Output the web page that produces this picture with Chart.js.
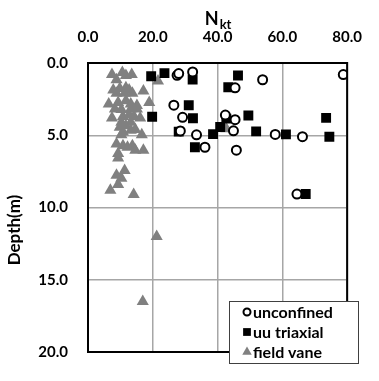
<!DOCTYPE html>
<html>
<head>
<meta charset="utf-8">
<script src="https://cdn.jsdelivr.net/npm/chart.js@4.4.1/dist/chart.umd.min.js"></script>
<style>
  html, body { margin: 0; padding: 0; background: #fff; }
  #wrap { width: 379px; height: 381px; }
</style>
</head>
<body>
<div id="wrap"><canvas id="myChart" width="379" height="381"></canvas></div>
<script>
// values
const seriesNames = ['unconfined', 'uu triaxial', 'field vane'];
const nktTicks = ['0.0', '20.0', '40.0', '60.0', '80.0'];
const depthTicks = ['0.0', '5.0', '10.0', '15.0', '20.0'];

const unconfinedNkt = [27.5, 28, 32.3, 45.4, 53.9, 78.8, 26.5, 29.2, 42.4, 45.4, 44.9, 28.5, 33.5, 36.1, 45.8, 57.8, 66.2, 64.5];
const unconfinedDepth = [0.85, 0.73, 0.62, 1.72, 1.16, 0.8, 2.92, 3.76, 3.6, 3.92, 4.69, 4.7, 4.97, 5.83, 6.03, 4.94, 5.1, 9.07];

const uuNkt = [19.5, 23.6, 32.3, 46.3, 43.3, 31.1, 19.8, 32.4, 42.7, 49.5, 40.8, 38.6, 28, 33, 51.9, 61.1, 73.5, 74.5, 67.2];
const uuDepth = [0.92, 0.7, 1.14, 0.86, 1.68, 2.92, 3.72, 3.82, 3.85, 3.63, 4.43, 4.92, 4.75, 5.83, 4.73, 4.94, 3.8, 5.1, 9.07];

const vaneNkt = [7.4, 10.6, 11.7, 13.5, 8.8, 21.6,
  7.8, 9.8, 11.7, 12.7, 17.1, 8.8, 11.3, 13.7,
  6.4, 9.3, 11.7, 13.2, 15.1, 18.9, 8.3, 10.3, 13.2, 15.1,
  7.4, 10.8, 12.7, 14.2, 16.1,
  9.8, 11.7, 10.3, 13.2, 10.8, 13.2, 14.6, 16.6, 10.3,
  8.8, 10.8, 12.2, 13.7, 14.6, 17.1, 9.3, 9.3,
  11.3, 8.8, 10.3, 9.3, 6.9, 14.1, 21.2, 16.9, 42.7];
const vaneDepth = [0.79, 0.65, 0.86, 0.8, 1.16, 1.25,
  1.87, 1.76, 1.72, 1.87, 1.94, 2.1, 2.1, 2.1,
  2.84, 2.73, 2.62, 2.84, 2.94, 2.74, 3.18, 3.22, 3.18, 3.18,
  3.8, 3.7, 3.6, 3.7, 3.8,
  4.45, 4.34, 4.1, 4.1, 4.77, 4.66, 4.6, 4.97, 4.97,
  5.61, 5.72, 5.83, 5.72, 6.04, 6.04, 6.26, 6.58,
  7.44, 7.76, 7.98, 8.4, 8.8, 9.1, 12.0, 16.5, 4.55];

function pts(xs, ys) {
    return xs.map((x, i) => ({ x: x, y: ys[i] }));
}

const fontFam = 'Lato, "Open Sans", sans-serif';

// frame round the plot, axis titles, legend box inside the plot
const extras = {
    id: 'extras',
    afterDraw(chart) {
        const c = chart.ctx;
        const a = chart.chartArea;
        c.save();
        c.strokeStyle = '#000';
        c.lineWidth = 2;
        c.strokeRect(a.left, a.top, a.right - a.left, a.bottom - a.top);

        // axis title N with subscript kt
        const cx = (a.left + a.right) / 2;
        c.fillStyle = '#000';
        c.textBaseline = 'alphabetic';
        c.font = 'bold 18px ' + fontFam;
        const wN = c.measureText('N').width;
        c.font = 'bold 13px ' + fontFam;
        const wSub = c.measureText('kt').width;
        const x0 = cx - (wN + wSub) / 2;
        c.font = 'bold 18px ' + fontFam;
        c.textAlign = 'left';
        c.fillText('N', x0, 25);
        c.font = 'bold 13px ' + fontFam;
        c.fillText('kt', x0 + wN + 1, 29);

        // depth title
        c.save();
        c.translate(15, 230);
        c.rotate(-Math.PI / 2);
        c.textAlign = 'center';
        c.textBaseline = 'middle';
        c.font = 'bold 17px ' + fontFam;
        c.fillText('Depth(m)', 0, 0);
        c.restore();

        // legend
        const bx = 229, by = 301, bw = 129, bh = 62;
        c.fillStyle = '#fff';
        c.fillRect(bx, by, bw, bh);
        c.strokeStyle = '#404040';
        c.lineWidth = 1;
        c.strokeRect(bx + 0.5, by + 0.5, bw, bh);
        c.font = 'bold 16px ' + fontFam;
        c.textBaseline = 'middle';
        c.textAlign = 'left';
        chart.data.datasets.forEach((ds, i) => {
            const ly = by + 11 + i * 20;
            const lx = bx + 18;
            c.lineWidth = 2;
            c.strokeStyle = ds.borderColor;
            c.fillStyle = ds.backgroundColor;
            Chart.helpers.drawPoint(c, {
                pointStyle: ds.pointStyle,
                radius: ds.pointStyle === 'circle' ? 3.5 : 5.5,
                borderWidth: ds.borderWidth
            }, lx, ly);
            c.fillStyle = '#000';
            c.fillText(ds.label, lx + 6, ly + 1);
        });
        c.restore();
    }
};

const ctx = document.getElementById('myChart').getContext('2d');
const myChart = new Chart(ctx, {
    type: 'scatter',
    data: {
        datasets: [{
            label: seriesNames[0],
            data: pts(unconfinedNkt, unconfinedDepth),
            pointStyle: 'circle',
            pointRadius: 4.5,
            backgroundColor: '#fff',
            borderColor: '#000',
            borderWidth: 2
        }, {
            label: seriesNames[1],
            data: pts(uuNkt, uuDepth),
            pointStyle: 'rect',
            pointRadius: 7,
            backgroundColor: '#000',
            borderColor: '#000',
            borderWidth: 0
        }, {
            label: seriesNames[2],
            data: pts(vaneNkt, vaneDepth),
            pointStyle: 'triangle',
            pointRadius: 7,
            backgroundColor: '#808080',
            borderColor: '#808080',
            borderWidth: 0
        }]
    },
    options: {
        responsive: false,
        animation: false,
        layout: { padding: { left: 0, top: 0, right: 17, bottom: 9 } },
        plugins: {
            legend: { display: false },
            tooltip: { enabled: false }
        },
        scales: {
            x: {
                type: 'linear',
                position: 'top',
                min: 0,
                max: 80,
                afterFit(scale) { scale.height = 63; },
                afterBuildTicks(scale) {
                    scale.ticks = nktTicks.map(t => ({ value: parseFloat(t) }));
                },
                ticks: {
                    padding: 17,
                    color: '#000',
                    font: { family: fontFam, size: 15, weight: 'bold' },
                    callback: (v) => nktTicks.find(t => parseFloat(t) === v)
                },
                grid: { color: '#a6a6a6', lineWidth: 1.5, drawTicks: false },
                border: { display: false }
            },
            y: {
                type: 'linear',
                reverse: true,
                min: 0,
                max: 20,
                afterFit(scale) { scale.width = 88; },
                afterBuildTicks(scale) {
                    scale.ticks = depthTicks.map(t => ({ value: parseFloat(t) }));
                },
                ticks: {
                    padding: 20,
                    color: '#000',
                    font: { family: fontFam, size: 15, weight: 'bold' },
                    callback: (v) => depthTicks.find(t => parseFloat(t) === v)
                },
                grid: { color: '#a6a6a6', lineWidth: 1.5, drawTicks: false },
                border: { display: false }
            }
        }
    },
    plugins: [extras]
});
</script>
</body>
</html>
